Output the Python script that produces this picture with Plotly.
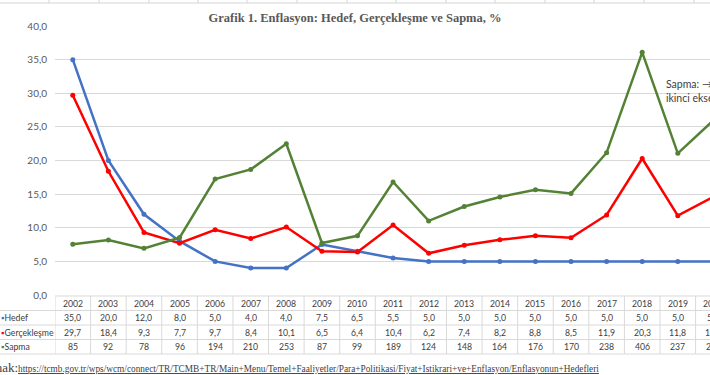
import plotly.graph_objects as go

years = list(range(2002, 2021))
hedef = [35.0, 20.0, 12.0, 8.0, 5.0, 4.0, 4.0, 7.5, 6.5, 5.5, 5.0, 5.0, 5.0, 5.0, 5.0, 5.0, 5.0, 5.0, 5.0]
gercek = [29.7, 18.4, 9.3, 7.7, 9.7, 8.4, 10.1, 6.5, 6.4, 10.4, 6.2, 7.4, 8.2, 8.8, 8.5, 11.9, 20.3, 11.8, 14.6]
sapma = [85, 92, 78, 96, 194, 210, 253, 87, 99, 189, 124, 148, 164, 176, 170, 238, 406, 237, 292]
series_names = ["Hedef", "Gerçekleşme", "Sapma"]
colors = ["#4472C4", "#FF0000", "#548235"]

W, H = 710, 375
ML, MT, MB = 55, 26, 80
x0, x1 = 2001.5, 2019.905
plot_w = W - ML
plot_h = H - MT - MB

def px2paper_x(px):
    return (px - ML) / plot_w

def py2paper_y(py):
    return (H - MB - py) / plot_h

fig = go.Figure()
fig.add_trace(go.Scatter(x=years, y=hedef, name=series_names[0], mode="lines+markers",
                         line=dict(color=colors[0], width=2.5), marker=dict(size=5, color=colors[0])))
fig.add_trace(go.Scatter(x=years, y=gercek, name=series_names[1], mode="lines+markers",
                         line=dict(color=colors[1], width=2.5), marker=dict(size=5, color=colors[1])))
fig.add_trace(go.Scatter(x=years, y=sapma, name=series_names[2], mode="lines+markers", yaxis="y2",
                         line=dict(color=colors[2], width=2.5), marker=dict(size=5, color=colors[2])))

font_fam = "Lato, 'Noto Sans', sans-serif"
serif = "'Liberation Serif', 'Times New Roman', serif"
txt_col = "#404040"
grid_col = "#D9D9D9"

fig.update_layout(
    width=W, height=H, autosize=False,
    margin=dict(l=ML, r=0, t=MT, b=MB, pad=0),
    paper_bgcolor="white", plot_bgcolor="white",
    showlegend=False,
    separators=",.",
    title=dict(text="<b>Grafik 1. Enflasyon: Hedef, Gerçekleşme ve Sapma, %</b>",
               x=0.5, xref="container", xanchor="center",
               y=1 - 18 / H, yref="container", yanchor="middle",
               font=dict(family=serif, size=12.5, color="#595959")),
    xaxis=dict(range=[x0, x1], showticklabels=False, showgrid=False, zeroline=False,
               showline=False, ticks=""),
    yaxis=dict(range=[0, 40], dtick=5, tickformat=".1f", showgrid=True, gridcolor=grid_col,
               gridwidth=1, zeroline=False, showline=False, ticks="", ticklabelstandoff=7,
               tickfont=dict(family=font_fam, size=10, color="#595959")),
    yaxis2=dict(range=[0, 450], overlaying="y", side="right", showticklabels=False,
                showgrid=False, zeroline=False, showline=False, ticks=""),
)

shapes = []
annotations = []

# data table rows (pixel boundaries)
row_lines_px = [296, 310.5, 325, 339.5, 354]
row_centers_px = [(row_lines_px[i] + row_lines_px[i + 1]) / 2 for i in range(4)]
tbl_col = "#D9D9D9"
shapes.append(dict(type="line", xref="paper", yref="paper", x0=0, x1=1.1,
                   y0=py2paper_y(row_lines_px[0]), y1=py2paper_y(row_lines_px[0]),
                   line=dict(color=tbl_col, width=1)))
for py in row_lines_px[1:]:
    shapes.append(dict(type="line", xref="paper", yref="paper", x0=px2paper_x(0), x1=1.1,
                       y0=py2paper_y(py), y1=py2paper_y(py), line=dict(color=tbl_col, width=1)))
for yr in years:
    shapes.append(dict(type="line", xref="x", yref="paper", x0=yr - 0.5, x1=yr - 0.5,
                       y0=py2paper_y(row_lines_px[0]), y1=py2paper_y(row_lines_px[-1]),
                       line=dict(color=tbl_col, width=1)))

def cell_x(yr):
    return (yr - x0) / (x1 - x0)

tfont = dict(family=font_fam, size=8.7, color=txt_col)
rows = [
    [str(y) for y in years],
    [f"{v:.1f}".replace(".", ",") for v in hedef],
    [f"{v:.1f}".replace(".", ",") for v in gercek],
    [str(v) for v in sapma],
]
for r, vals in enumerate(rows):
    for yr, t in zip(years, vals):
        annotations.append(dict(xref="paper", yref="paper", x=cell_x(yr), y=py2paper_y(row_centers_px[r]),
                                text=t, showarrow=False, xanchor="center", yanchor="middle", font=tfont))
for i, name in enumerate(series_names):
    annotations.append(dict(xref="paper", yref="paper", x=px2paper_x(-1), y=py2paper_y(row_centers_px[i + 1]),
                            text=f"<span style='color:{colors[i]}'>▪</span>{name}", showarrow=False,
                            xanchor="left", yanchor="middle", font=tfont))

# source line
url = ("https://tcmb.gov.tr/wps/wcm/connect/TR/TCMB+TR/Main+Menu/Temel+Faaliyetler/Para+Politikasi/"
       "Fiyat+Istikrari+ve+Enflasyon/Enflasyonun+Hedefleri")
annotations.append(dict(xref="paper", yref="paper", x=px2paper_x(-28), y=py2paper_y(367),
                        text=("<span style='font-size:13px'>Kaynak:</span>"
                              f"<span style='text-decoration:underline'>{url}</span>"),
                        showarrow=False, xanchor="left", yanchor="middle",
                        font=dict(family=serif, size=9.3, color=txt_col)))

# secondary-axis note
annotations.append(dict(xref="paper", yref="paper", x=px2paper_x(664), y=py2paper_y(90.5),
                        text="Sapma: →<br>ikinci eksen", showarrow=False, xanchor="left", yanchor="middle",
                        align="left", font=dict(family=font_fam, size=10.5, color=txt_col)))

# spreadsheet cell grid at the very top
sheet_col = "#D4D4D4"
shapes.append(dict(type="line", xref="paper", yref="paper", x0=px2paper_x(0), x1=px2paper_x(W),
                   y0=py2paper_y(3), y1=py2paper_y(3), line=dict(color=sheet_col, width=1)))
for px in [49, 99, 149, 198, 247, 297, 347, 396, 446, 495, 545, 594, 644, 694]:
    shapes.append(dict(type="line", xref="paper", yref="paper", x0=px2paper_x(px), x1=px2paper_x(px),
                       y0=py2paper_y(0), y1=py2paper_y(3), line=dict(color=sheet_col, width=1)))

fig.update_layout(shapes=shapes, annotations=annotations)
fig.write_html("out.html", config={"displayModeBar": False},
               post_script="document.body.style.margin='0';document.body.style.overflow='hidden';")
